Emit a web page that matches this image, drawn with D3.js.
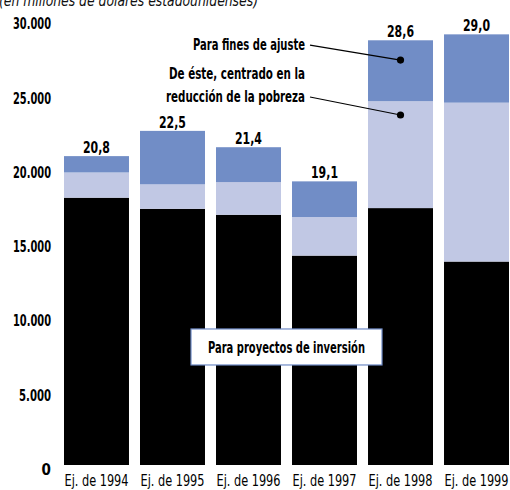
<!DOCTYPE html>
<html>
<head>
<meta charset="utf-8">
<script src="https://cdn.jsdelivr.net/npm/d3@7"></script>
<style>
  body { margin: 0; background: white; }
  text { font-family: "DejaVu Sans Condensed", "Liberation Sans Narrow", sans-serif; }
</style>
</head>
<body>
<svg id="chart"></svg>
<script>
// millones de dólares
const years = ["Ej. de 1994", "Ej. de 1995", "Ej. de 1996", "Ej. de 1997", "Ej. de 1998", "Ej. de 1999"];
const inversion = [18000, 17250, 16850, 14100, 17300, 13700];
const pobreza = [1700, 1650, 2200, 2600, 7200, 10700];
const ajuste = [1100, 3600, 2350, 2400, 4100, 4600];
const totals = ["20,8", "22,5", "21,4", "19,1", "28,6", "29,0"];
const yTicks = [0, 5000, 10000, 15000, 20000, 25000, 30000];

const width = 510, height = 490;
const margin = { top: 19.5, right: 1, bottom: 25, left: 64 };
const innerW = width - margin.left - margin.right;
const innerH = height - margin.top - margin.bottom;

// squeeze text to a given width (the original uses a condensed Gill Sans)
function squeeze(sel, w) {
    sel.attr("textLength", w).attr("lengthAdjust", "spacingAndGlyphs");
}

const svg = d3.select("#chart")
    .attr("width", width)
    .attr("height", height);

// subtitle, cut at the top like the original
svg.append("text")
    .attr("x", -1)
    .attr("y", 6)
    .style("font-size", "15px")
    .style("font-style", "italic")
    .style("fill", "#111")
    .text("(en millones de dólares estadounidenses)")
    .call(squeeze, 259);

const g = svg.append("g")
    .attr("transform", `translate(${margin.left},${margin.top})`);

const x = d3.scaleBand()
    .domain(years)
    .range([0, innerW])
    .paddingInner(0.145)
    .paddingOuter(0);

const y = d3.scaleLinear()
    .domain([0, 30000])
    .range([innerH, 0]);

const data = years.map((yr, i) => ({
    year: yr,
    inversion: inversion[i],
    pobreza: pobreza[i],
    ajuste: ajuste[i],
    total: totals[i]
}));

const stack = d3.stack().keys(["inversion", "pobreza", "ajuste"]);
const series = stack(data);
const colors = { inversion: "#000000", pobreza: "#c1c8e4", ajuste: "#718dc6" };

g.selectAll("g.layer")
    .data(series)
    .enter()
    .append("g")
    .attr("class", "layer")
    .attr("fill", d => colors[d.key])
    .selectAll("rect")
    .data(d => d)
    .enter()
    .append("rect")
    .attr("x", d => x(d.data.year))
    .attr("y", d => y(d[1]))
    .attr("width", x.bandwidth())
    .attr("height", d => y(d[0]) - y(d[1]));

// total labels
g.selectAll("text.total")
    .data(data)
    .enter()
    .append("text")
    .attr("class", "total")
    .attr("x", d => x(d.year) + x.bandwidth() / 2)
    .attr("y", d => y(d.inversion + d.pobreza + d.ajuste) - 3)
    .attr("text-anchor", "middle")
    .style("font-size", "16.5px")
    .style("font-weight", "bold")
    .text(d => d.total)
    .call(squeeze, 27);

// y axis (labels only)
const yAxis = d3.axisLeft(y)
    .tickValues(yTicks)
    .tickSize(0)
    .tickPadding(13)
    .tickFormat(d => d === 0 ? "0" : d3.format(",")(d).replace(/,/g, "."));

const yAxisGroup = g.append("g")
    .style("font-size", "15px")
    .style("font-weight", "bold");
yAxis(yAxisGroup);
yAxisGroup.select(".domain").remove();
yAxisGroup.selectAll("text")
    .attr("dy", "0.62em")
    .style("font-family", "'DejaVu Sans Condensed', sans-serif")
    .attr("fill", "#000")
    .filter(d => d >= 10000)
    .call(squeeze, 38);
yAxisGroup.selectAll("text")
    .filter(d => d === 5000)
    .call(squeeze, 32);

// x axis
const xAxis = d3.axisBottom(x).tickSize(0).tickPadding(10);
const xAxisGroup = g.append("g")
    .attr("transform", `translate(0,${innerH})`)
    .style("font-size", "16px");
xAxis(xAxisGroup);
xAxisGroup.select(".domain").remove();
xAxisGroup.selectAll("text")
    .style("font-family", "'DejaVu Sans Condensed', sans-serif")
    .attr("fill", "#000")
    .call(squeeze, 64);

// callouts pointing at the 1998 bar
const calloutYear = "Ej. de 1998";
const callouts = [
    { lines: ["Para fines de ajuste"], widths: [112], lineValue: 28280, dotValue: 27270 },
    { lines: ["De éste, centrado en la", "reducción de la pobreza"], widths: [136, 139], lineValue: 24780, dotValue: 23570 }
];
const cx = x(calloutYear) + x.bandwidth() / 2;
const textRight = 241;

callouts.forEach(c => {
    const ly = y(c.lineValue);
    c.lines.forEach((t, i) => {
        g.append("text")
            .attr("x", textRight)
            .attr("y", ly + 5 - (c.lines.length - 1 - i) * 23)
            .attr("text-anchor", "end")
            .style("font-size", "16.5px")
            .style("font-weight", "bold")
            .text(t)
            .call(squeeze, c.widths[i]);
    });
    g.append("line")
        .attr("x1", textRight + 5)
        .attr("y1", ly)
        .attr("x2", cx)
        .attr("y2", y(c.dotValue))
        .attr("stroke", "#000")
        .attr("stroke-width", 1.2);
    g.append("circle")
        .attr("cx", cx)
        .attr("cy", y(c.dotValue))
        .attr("r", 3.6)
        .attr("fill", "#000");
});

// box label for the black segment
const boxX = 127, boxW = 191, boxY = y(9160), boxH = 36;
g.append("rect")
    .attr("x", boxX)
    .attr("y", boxY)
    .attr("width", boxW)
    .attr("height", boxH)
    .attr("fill", "white")
    .attr("stroke", "#6f8bc6")
    .attr("stroke-width", 1.2);
g.append("text")
    .attr("x", boxX + boxW / 2)
    .attr("y", boxY + boxH / 2 + 6)
    .attr("text-anchor", "middle")
    .style("font-size", "16.5px")
    .style("font-weight", "bold")
    .text("Para proyectos de inversión")
    .call(squeeze, 157);
</script>
</body>
</html>
